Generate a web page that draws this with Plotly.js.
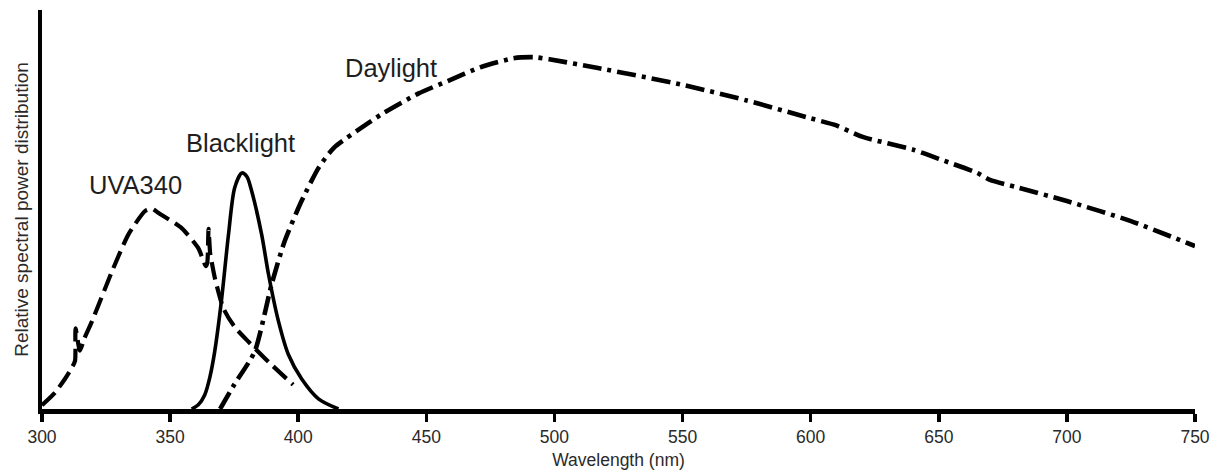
<!DOCTYPE html>
<html>
<head>
<meta charset="utf-8">
<script src="https://cdn.plot.ly/plotly-3.0.1.min.js"></script>
<style>html,body{margin:0;padding:0;background:#fff;}#chart{width:1218px;height:472px;}</style>
</head>
<body>
<div id="chart"></div>
<script>
// Wavelength (nm) and relative spectral power (daylight peak = 100)
const uvaX = [300, 305, 309, 311.8, 312.9, 313.1, 314.8, 316.5, 319.5, 327.3, 333.8, 340.3, 343, 345.5, 354.5, 361, 362.8, 363.9, 364.5, 365, 365.6, 366.3, 367.5, 370.8, 375, 380.6, 388.4, 398];
const uvaY = [1.1, 4.6, 8.6, 11.9, 13.7, 22.9, 16.6, 20, 24.9, 39.1, 49.7, 56.3, 56.9, 55.7, 51.4, 45.7, 42.5, 40.6, 41.5, 51.2, 44.5, 41.5, 37.1, 28.6, 23.5, 19.1, 13.4, 6.9];

const blackX = [358.4, 361, 363.5, 365.5, 367.4, 370, 372.8, 375.2, 378, 380, 381.8, 385.7, 388.4, 392.3, 396.2, 401.3, 407.9, 415.7];
const blackY = [0, 1.2, 4, 9, 16.3, 30.6, 49.7, 62.9, 67.1, 66, 62, 49.7, 38.3, 24.9, 15.4, 8.6, 2.9, 0];

const dayX = [369.5, 375, 383, 389.6, 394.7, 401.3, 408, 414, 427, 433, 447, 459, 471, 484, 492, 498, 517, 549, 575, 600, 610, 620, 640, 650, 665, 670, 680, 700, 725, 750];
const dayY = [0, 6.9, 16.3, 35.4, 47.7, 59.1, 68.6, 74.3, 81.1, 84, 89.7, 93.4, 97.1, 99.7, 100, 99.4, 96.9, 92.3, 87.7, 82.6, 80.6, 77.4, 73.7, 71.1, 67.1, 65.1, 63.1, 59.1, 53.4, 46.3];

const tickVals = [300, 350, 400, 450, 500, 550, 600, 650, 700, 750];
const tickText = ["300", "350", "400", "450", "500", "550", "600", "650", "700", "750"];

const labelText = ["UVA340", "Blacklight", "Daylight"];
const labelX = [336.3, 377.5, 436.4];
const labelY = [63.8, 75.5, 97];

const traces = [
  {x: uvaX, y: uvaY, mode: 'lines', line: {color: '#000', width: 4.2, dash: '18px,7px', shape: 'spline', smoothing: 0.6}, hoverinfo: 'skip'},
  {x: blackX, y: blackY, mode: 'lines', line: {color: '#000', width: 3.6, shape: 'spline', smoothing: 0.8}, hoverinfo: 'skip'},
  {x: dayX, y: dayY, mode: 'lines', line: {color: '#000', width: 4.6, dash: '19px,6px,4px,6px', shape: 'spline', smoothing: 0.6}, hoverinfo: 'skip'}
];

const layout = {
  width: 1218, height: 472,
  margin: {l: 42, r: 23, t: 10, b: 63},
  paper_bgcolor: '#fff', plot_bgcolor: '#fff',
  showlegend: false,
  font: {family: 'Liberation Sans, Arial, sans-serif', color: '#222'},
  xaxis: {
    range: [300, 750], tickmode: 'array', tickvals: tickVals, ticktext: tickText,
    ticks: 'outside', ticklen: 8, tickwidth: 3.5, tickcolor: '#000',
    showline: true, linewidth: 4.5, linecolor: '#000', mirror: false,
    showgrid: false, zeroline: false,
    tickfont: {size: 17.5, color: '#2a2a2a'},
    title: {text: 'Wavelength (nm)', font: {size: 17.5, color: '#2a2a2a'}, standoff: 9},
    automargin: false
  },
  yaxis: {
    range: [0, 113.4], showline: true, linewidth: 4.5, linecolor: '#000',
    showticklabels: false, ticks: '', showgrid: false, zeroline: false,
    title: {text: 'Relative spectral power distribution', font: {size: 19, color: '#2a2a2a'}, standoff: 5},
    automargin: false
  },
  annotations: labelText.map((t, i) => ({
    x: labelX[i], y: labelY[i], xref: 'x', yref: 'y', text: t, showarrow: false,
    font: {size: 25.5, color: '#1e1e1e'}
  }))
};

Plotly.newPlot('chart', traces, layout, {displayModeBar: false, staticPlot: true});
</script>
</body>
</html>
